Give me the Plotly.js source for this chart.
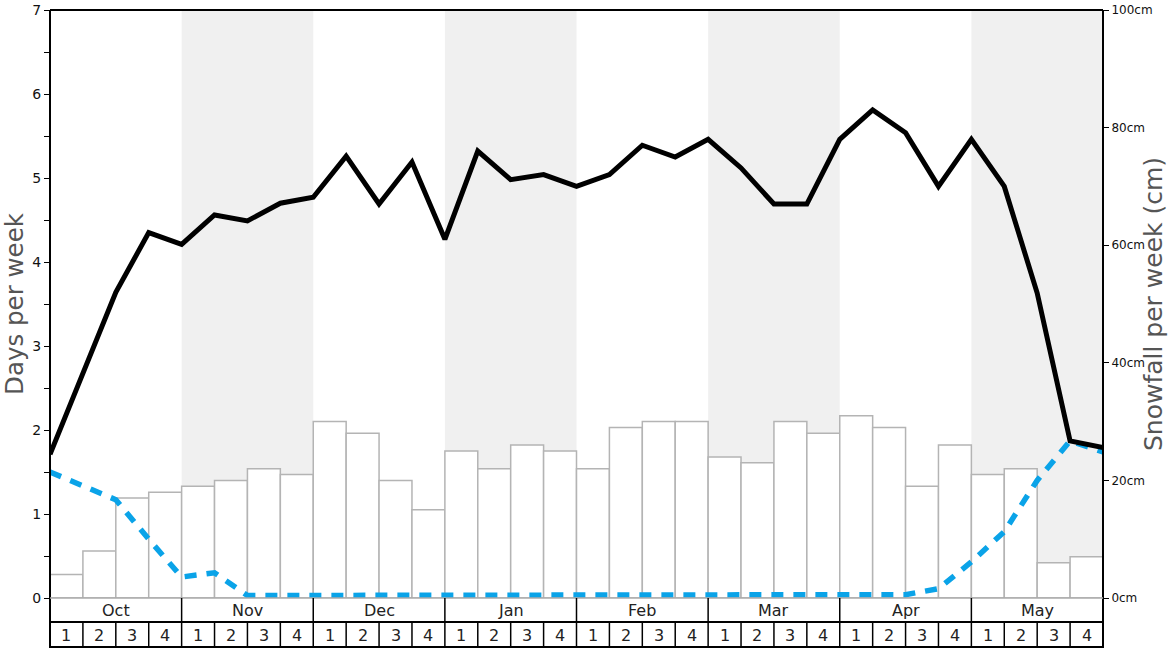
<!DOCTYPE html>
<html>
<head>
<meta charset="utf-8">
<script src="https://cdn.plot.ly/plotly-3.0.1.min.js"></script>
<style>html,body{margin:0;padding:0;background:#fff;}#chart{width:1168px;height:648px;}</style>
</head>
<body>
<div id="chart"></div>
<script>
const months = ['Oct','Nov','Dec','Jan','Feb','Mar','Apr','May'];
const weekLabels = ['1','2','3','4'];
// snowfall per week (cm), 32 weeks
const snowfall = [4,8,17,18, 19,20,22,21, 30,28,20,15, 25,22,26,25, 22,29,30,30, 24,23,30,28, 31,29,19,26, 21,22,6,7];
// days per week (black line), 33 points at week boundaries
const daysBlack = [1.71,2.68,3.64,4.35,4.21,4.56,4.49,4.70,4.77,5.26,4.69,5.19,4.27,5.32,4.98,5.04,4.90,5.04,5.39,5.25,5.46,5.12,4.69,4.69,5.46,5.81,5.54,4.90,5.46,4.90,3.63,1.87,1.79];
// days per week (blue dashed line)
const daysBlue = [1.50,1.34,1.17,0.70,0.25,0.30,0.03,0.03,0.03,0.03,0.03,0.03,0.03,0.03,0.03,0.03,0.03,0.03,0.03,0.03,0.03,0.03,0.03,0.03,0.03,0.03,0.04,0.11,0.43,0.79,1.40,1.87,1.74];
const snowTicks = [0,20,40,60,80,100];

const nW = snowfall.length;
const barX = snowfall.map((_, i) => i + 0.5);
const ptX = daysBlack.map((_, i) => i);

const plotH = 588;
const py = px => -px / plotH; // pixels below plot bottom -> paper

const shapes = [];
months.forEach((m, k) => {
  if (k % 2 === 1) {
    shapes.push({type:'rect', xref:'x', yref:'paper', x0:k*4, x1:k*4+4, y0:0, y1:1,
      fillcolor:'#f0f0f0', line:{width:0}, layer:'below'});
  }
});
shapes.push({type:'line', xref:'paper', yref:'paper', x0:0, x1:1, y0:1, y1:1, line:{color:'#000', width:2}});
shapes.push({type:'line', xref:'paper', yref:'paper', x0:0, x1:0, y0:1, y1:py(50), line:{color:'#000', width:2}});
shapes.push({type:'line', xref:'paper', yref:'paper', x0:1, x1:1, y0:1, y1:py(50), line:{color:'#000', width:2}});
shapes.push({type:'line', xref:'paper', yref:'paper', x0:0, x1:1, y0:0, y1:0, line:{color:'#aaa', width:1.5}});
shapes.push({type:'line', xref:'paper', yref:'paper', x0:0, x1:1, y0:py(24), y1:py(24), line:{color:'#000', width:2}});
shapes.push({type:'line', xref:'paper', yref:'paper', x0:0, x1:1, y0:py(49), y1:py(49), line:{color:'#000', width:2}});
for (let i = 1; i < nW; i++) {
  const isMonth = i % 4 === 0;
  shapes.push({type:'line', xref:'paper', yref:'paper', x0:i/nW, x1:i/nW,
    y0: isMonth ? 0 : py(24), y1: py(49), line:{color:'#000', width:1.5}});
}

const annotations = [];
months.forEach((m, k) => {
  annotations.push({text:m, xref:'x', yref:'paper', x:k*4+2, y:py(12), showarrow:false,
    xanchor:'center', yanchor:'middle', font:{size:16, color:'#222', family:'DejaVu Sans'}});
  weekLabels.forEach((w, j) => {
    annotations.push({text:w, xref:'x', yref:'paper', x:k*4+j+0.5, y:py(37), showarrow:false,
      xanchor:'center', yanchor:'middle', font:{size:16, color:'#222', family:'DejaVu Sans'}});
  });
});

const traces = [
  {type:'bar', x:barX, y:snowfall, width:1, yaxis:'y', xaxis:'x',
   marker:{color:'#ffffff', line:{color:'#b4b4b4', width:1.5}}, hoverinfo:'skip'},
  {type:'scatter', mode:'lines', x:ptX, y:daysBlue, yaxis:'y2', xaxis:'x',
   line:{color:'#0aa3e8', width:5.5, dash:'12px,10px'}, hoverinfo:'skip'},
  {type:'scatter', mode:'lines', x:ptX, y:daysBlack, yaxis:'y2', xaxis:'x',
   line:{color:'#000', width:5}, hoverinfo:'skip'}
];

const layout = {
  width:1168, height:648,
  margin:{l:50, r:65, t:10, b:50},
  paper_bgcolor:'#fff', plot_bgcolor:'rgba(0,0,0,0)',
  showlegend:false,
  bargap:0,
  font:{family:'DejaVu Sans', color:'#222'},
  xaxis:{range:[0,nW], showgrid:false, zeroline:false, showticklabels:false, ticks:'', showline:false, fixedrange:true},
  yaxis:{range:[0,100], side:'right', tickmode:'array', tickvals:snowTicks, ticktext:snowTicks.map(v => v + 'cm'),
    showgrid:false, zeroline:false, ticks:'outside', ticklen:5, tickwidth:1, tickcolor:'#000',
    showline:false, tickfont:{size:12, color:'#111'},
    title:{text:'Snowfall per week (cm)', font:{size:25, color:'#555'}, standoff:6}},
  yaxis2:{range:[0,7], overlaying:'y', side:'left', dtick:1, showgrid:false, zeroline:false,
    ticks:'outside', ticklen:5, tickwidth:1, tickcolor:'#000', showline:false,
    tickfont:{size:14, color:'#111'},
    minor:{dtick:0.5, ticks:'outside', ticklen:5, tickwidth:1, tickcolor:'#000', showgrid:false},
    title:{text:'Days per week', font:{size:24.5, color:'#555'}, standoff:12}},
  shapes:shapes,
  annotations:annotations
};

Plotly.newPlot('chart', traces, layout, {staticPlot:true, displayModeBar:false});
</script>
</body>
</html>
